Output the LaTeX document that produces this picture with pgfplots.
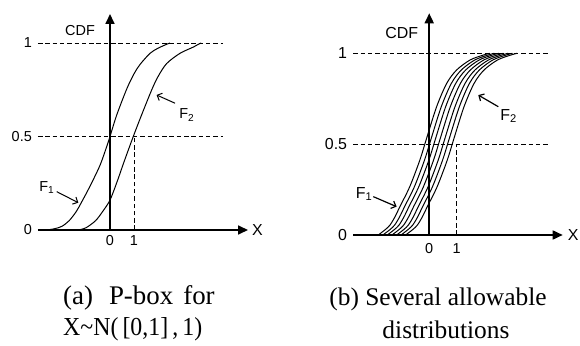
\documentclass[border=0pt]{standalone}
\usepackage{pgfplots}
\pgfplotsset{compat=1.18}
\usepackage{pgfplotstable}
\usepackage{fontspec}
\setmainfont{Liberation Sans}
\newfontfamily\capfont{Liberation Serif}
\usetikzlibrary{arrows.meta}

% Panel (a): bounds of the p-box
\pgfplotstableread{
x y
-2.64 0.0
-2.3 0.007
-2.0 0.02
-1.7 0.05
-1.4 0.1
-1.18 0.15
-0.83 0.235
-0.42 0.345
-0.14 0.445
0 0.5
0.28 0.615
0.70 0.755
1.0 0.835
1.25 0.885
1.67 0.945
2.0 0.972
2.36 0.993
2.5 1.0
}\FoneA
\pgfplotstableread{
x y
-1.32 0.0
-1.0 0.012
-0.6 0.05
-0.3 0.1
0 0.16
0.3 0.26
0.6 0.37
0.97 0.5
1.3 0.61
1.74 0.75
2.0 0.82
2.36 0.89
2.92 0.945
3.47 0.978
3.68 0.993
3.8 1.0
}\FtwoA
% Panel (b): seven allowable distributions
\pgfplotstableread{
y x1 x2 x3 x4 x5 x6 x7
0.0 -1.86 -1.69 -1.53 -1.36 -1.19 -1.03 -0.86
0.03 -1.6 -1.43 -1.27 -1.10 -0.93 -0.77 -0.60
0.055 -1.43 -1.26 -1.10 -0.93 -0.76 -0.60 -0.43
0.10 -1.25 -1.08 -0.92 -0.75 -0.58 -0.42 -0.25
0.156 -1.07 -0.90 -0.74 -0.57 -0.40 -0.24 -0.07
0.266 -0.71 -0.54 -0.38 -0.21 -0.04 0.12 0.29
0.413 -0.34 -0.17 -0.01 0.16 0.33 0.49 0.66
0.53 -0.10 0.07 0.23 0.40 0.57 0.73 0.90
0.706 0.27 0.44 0.60 0.77 0.94 1.10 1.27
0.835 0.64 0.81 0.97 1.14 1.31 1.47 1.64
0.908 1.0 1.17 1.33 1.50 1.67 1.83 2.0
0.963 1.49 1.66 1.82 1.99 2.16 2.32 2.49
0.99 1.97 2.14 2.30 2.47 2.64 2.80 2.97
1.0 2.21 2.38 2.54 2.71 2.88 3.04 3.21
}\FB

\pgfplotsset{
  pbox/.style={
    scale only axis, axis lines=middle,
    axis line style={line width=1.7bp, -{Triangle[length=10bp,width=9bp]}},
    xtick=\empty, ytick=\empty, clip=false,
  },
  dsh/.style={black, line width=0.8bp, dash pattern=on 4.5bp off 2.8bp},
  crv/.style={black, line width=1bp, smooth, no marks},
}

\begin{document}
\begin{tikzpicture}
\path[use as bounding box] (0,0) rectangle (580bp,346bp);

% ---------- (a)
\begin{axis}[pbox, at={(38bp,116bp)}, anchor=south west,
  width=210bp, height=216bp,
  xmin=-3, xmax=5.75, ymin=0, ymax=1.155]
  \addplot[dsh] coordinates {(-3,1) (4.71,1)};
  \addplot[dsh] coordinates {(-3,0.5) (4.71,0.5)};
  \addplot[dsh] coordinates {(1,0) (1,0.5)};
  \addplot[crv] table[x=x,y=y] {\FoneA};
  \addplot[crv] table[x=x,y=y] {\FtwoA};
  \begin{scope}[font=\fontsize{14.5}{17}\selectfont]
  \node at (axis cs:-1.25,1.066) {CDF};
  \node[anchor=east, inner sep=0, xshift=-6bp] at (axis cs:-3,1) {1};
  \node[anchor=east, inner sep=0, xshift=-6bp] at (axis cs:-3,0.5) {0.5};
  \node[anchor=east, inner sep=0, xshift=-6bp] at (axis cs:-3,0) {0};
  \node[anchor=north, inner sep=0, yshift=-5bp] at (axis cs:0,0) {0};
  \node[anchor=north, inner sep=0, yshift=-5bp] at (axis cs:1,0) {1};
  \node[anchor=west, inner sep=0, xshift=4bp] at (axis cs:5.75,0) {\fontsize{16}{18}\selectfont X};
  \node at (axis cs:-2.63,0.225) {F\textsubscript{1}};
  \node at (axis cs:3.2,0.615) {F\textsubscript{2}};
  \end{scope}
  \draw[line width=1bp, -{Straight Barb[length=4bp,width=8bp]}] (axis cs:-2.22,0.205) -- (axis cs:-1.32,0.146);
  \draw[line width=1bp, -{Straight Barb[length=4bp,width=8bp]}] (axis cs:2.71,0.678) -- (axis cs:1.94,0.722);
\end{axis}

% ---------- (b)
\begin{axis}[pbox, at={(353.3bp,111bp)}, anchor=south west,
  width=209.4bp, height=221.7bp,
  xmin=-2.77, xmax=4.87, ymin=0, ymax=1.22]
  \addplot[dsh] coordinates {(-2.77,1) (4.34,1)};
  \addplot[dsh] coordinates {(-2.77,0.5) (4.34,0.5)};
  \addplot[dsh] coordinates {(1,0) (1,0.5)};
  \foreach \k in {1,...,7} {
    \addplot[crv] table[x=x\k,y=y] {\FB};
  }
  \begin{scope}[font=\fontsize{16}{18}\selectfont]
  \node at (axis cs:-1.0,1.11) {CDF};
  \node[anchor=east, inner sep=0, xshift=-6bp] at (axis cs:-2.77,1) {1};
  \node[anchor=east, inner sep=0, xshift=-6bp] at (axis cs:-2.77,0.5) {0.5};
  \node[anchor=east, inner sep=0, xshift=-6bp] at (axis cs:-2.77,0) {0};
  \node[anchor=north, inner sep=0, yshift=-8bp] at (axis cs:0,0) {\fontsize{14.5}{17}\selectfont 0};
  \node[anchor=north, inner sep=0, yshift=-8bp] at (axis cs:1,0) {\fontsize{14.5}{17}\selectfont 1};
  \node[anchor=west, inner sep=0, xshift=5bp] at (axis cs:4.87,0) {X};
  \node at (axis cs:-2.38,0.226) {F\textsubscript{1}};
  \node at (axis cs:2.9,0.655) {F\textsubscript{2}};
  \end{scope}
  \draw[line width=1.2bp, -{Straight Barb[length=4bp,width=8bp]}] (axis cs:-2.04,0.211) -- (axis cs:-1.19,0.156);
  \draw[line width=1.2bp, -{Straight Barb[length=4bp,width=8bp]}] (axis cs:2.52,0.706) -- (axis cs:1.79,0.77);
\end{axis}

% ---------- captions
\begin{scope}[font=\capfont\fontsize{27}{29}\selectfont]
\node[anchor=base west, inner sep=0] at (63bp,41bp) {(a)\hspace{16bp}P-box\hspace{10bp}for};
\end{scope}
\begin{scope}[font=\capfont\fontsize{26}{28}\selectfont]
\node[anchor=base west, inner sep=0] at (63bp,11bp) {\scalebox{0.92}[1]{X\textasciitilde N(\hspace{4.5bp}[0,1]\hspace{4.5bp},\hspace{4.5bp}1)}};
\end{scope}
\begin{scope}[font=\capfont\fontsize{25.5}{28}\selectfont]
\node[anchor=base, inner sep=0] at (438bp,40bp) {(b) Several allowable};
\node[anchor=base, inner sep=0] at (446bp,8bp) {distributions};
\end{scope}
\end{tikzpicture}
\end{document}
